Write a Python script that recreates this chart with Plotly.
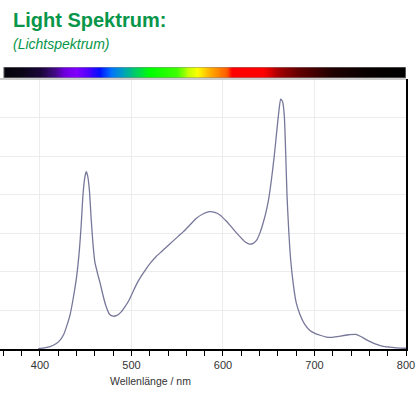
import plotly.graph_objects as go

# Spectrum data (wavelength in nm, relative intensity)
wavelength = [398, 405, 411, 417, 422, 426, 429, 433, 436, 440, 443, 445, 447, 449, 450.5, 452, 454, 456, 458, 460,
              463, 466, 469, 472, 476, 480, 484, 489, 493, 497, 501, 506, 511, 516, 521, 527, 533, 538, 545, 551,
              557, 564, 571, 578, 585, 591, 597, 603, 608, 614, 619, 624, 629, 633, 637, 641, 644, 647, 650, 653,
              656, 659, 661, 663, 665, 667, 668.5, 670, 672, 674, 677, 680, 684, 689, 695, 701, 707, 713, 719, 725,
              732, 738, 745, 750, 756, 762, 768, 775, 782, 790, 797, 800]
intensity = [0.01, 0.03, 0.06, 0.13, 0.23, 0.38, 0.58, 0.90, 1.27, 1.87, 2.55, 3.20, 4.00, 4.45, 4.60, 4.50, 4.12, 3.35, 2.70, 2.25,
             1.95, 1.68, 1.38, 1.12, 0.90, 0.85, 0.87, 0.97, 1.10, 1.25, 1.45, 1.70, 1.90, 2.08, 2.24, 2.40, 2.53, 2.64, 2.79, 2.92,
             3.05, 3.22, 3.39, 3.50, 3.56, 3.54, 3.47, 3.33, 3.20, 3.03, 2.90, 2.78, 2.72, 2.74, 2.83, 3.05, 3.28, 3.55, 3.90, 4.40,
             5.00, 5.70, 6.15, 6.48, 6.42, 6.05, 5.10, 3.95, 3.00, 2.30, 1.65, 1.20, 0.90, 0.65, 0.48, 0.40, 0.35, 0.31, 0.30, 0.32,
             0.35, 0.37, 0.38, 0.33, 0.25, 0.18, 0.12, 0.07, 0.05, 0.03, 0.02, 0.02]

# Colour bar stops (wavelength nm, colour)
bar_stop_nm = [361, 378, 400, 415, 427, 440, 452, 465, 477, 490, 500, 510, 520, 550, 561, 572, 582, 592, 603, 610,
               644, 662, 684, 720, 757, 800]
bar_stop_color = ["#05030d", "#0a0515", "#1a0538", "#400a80", "#7000e0", "#8000ff", "#5000ff", "#0010ff", "#0070ff",
                  "#00a0c0", "#00c080", "#00e040", "#00ff00", "#40ff00", "#c0ff00", "#ffff00", "#ffc000", "#ff9000",
                  "#ff6000", "#ff0000", "#ff0000", "#a00000", "#600000", "#200000", "#080000", "#000000"]
bar_nm = list(range(361, 801))

tick_vals = [400, 500, 600, 700, 800]
tick_text = ["400", "500", "600", "700", "800"]

lo, hi = bar_stop_nm[0], bar_stop_nm[-1]
colorscale = [[(n - lo) / (hi - lo), c] for n, c in zip(bar_stop_nm, bar_stop_color)]

fig = go.Figure()
fig.add_trace(go.Heatmap(x=bar_nm, y=[0], z=[bar_nm], colorscale=colorscale, showscale=False,
                         zsmooth="best", zmin=lo, zmax=hi, yaxis="y2", hoverinfo="skip"))
fig.add_trace(go.Scatter(x=wavelength, y=intensity, mode="lines",
                         line=dict(color="#77779a", width=1.3, shape="spline", smoothing=0.5),
                         showlegend=False))

plot_h = 401 - 67 - 52
fig.update_layout(
    width=420, height=401,
    margin=dict(l=0, r=14, t=67, b=52),
    paper_bgcolor="white", plot_bgcolor="white",
    font=dict(family="Liberation Sans, Arial, sans-serif", color="#333333", size=11),
    xaxis=dict(range=[356.3, 800], tickvals=tick_vals, ticktext=tick_text,
               showgrid=True, gridcolor="#ececec", gridwidth=1,
               showline=True, linecolor="#000000", linewidth=1.5,
               ticks="outside", ticklen=5, tickcolor="#000000", tickwidth=1,
               minor=dict(dtick=20, tick0=400, ticks="outside", ticklen=5, tickcolor="#000000", showgrid=False),
               tickfont=dict(size=11, color="#333333"), zeroline=False),
    yaxis=dict(domain=[0, 270 / plot_h], range=[0, 7], dtick=1, showgrid=True, gridcolor="#ececec",
               showticklabels=False, zeroline=False, side="right",
               showline=True, linecolor="#000000", linewidth=1.5, ticks=""),
    yaxis2=dict(domain=[(349 - 78) / plot_h, 1], range=[-0.5, 0.5], showticklabels=False,
                showgrid=False, zeroline=False, anchor="x"),
    showlegend=False,
)

# thin border of the colour bar and grey top frame line
fig.add_shape(type="rect", xref="x", yref="y2", x0=bar_nm[0] - 0.5, x1=bar_nm[-1], y0=-0.5, y1=0.5,
              line=dict(color="#8a8a8a", width=1), fillcolor="rgba(0,0,0,0)")
fig.add_shape(type="line", xref="paper", yref="paper", x0=0, x1=1, y0=270 / plot_h, y1=270 / plot_h,
              line=dict(color="#9a9a9a", width=1))

green = "#08964a"
fig.add_annotation(text="<b>Light Spektrum:</b>", xref="paper", yref="paper", x=11 / 406, y=(349 - 20) / plot_h,
                   xanchor="left", yanchor="middle", showarrow=False,
                   font=dict(family="Liberation Sans, Arial, sans-serif", size=20, color=green))
fig.add_annotation(text="<i>(Lichtspektrum)</i>", xref="paper", yref="paper", x=11 / 406, y=(349 - 44) / plot_h,
                   xanchor="left", yanchor="middle", showarrow=False,
                   font=dict(family="Liberation Sans, Arial, sans-serif", size=14, color=green))
fig.add_annotation(text="Wellenlänge / nm", xref="paper", yref="paper", x=150 / 406, y=(349 - 381) / plot_h,
                   xanchor="center", yanchor="middle", showarrow=False,
                   font=dict(family="Liberation Sans, Arial, sans-serif", size=10.5, color="#333333"))

fig.write_html("out.html")
